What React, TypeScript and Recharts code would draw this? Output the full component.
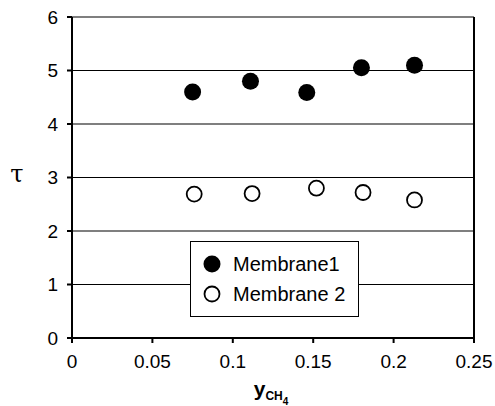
import React from 'react';
import {
  ScatterChart,
  Scatter,
  XAxis,
  YAxis,
  CartesianGrid,
  Legend,
  ReferenceLine
} from 'recharts';

// methane mole fraction vs tortuosity
const yCH4Membrane1 = [0.075, 0.111, 0.146, 0.18, 0.213];
const tauMembrane1 = [4.6, 4.8, 4.59, 5.05, 5.1];
const yCH4Membrane2 = [0.076, 0.112, 0.152, 0.181, 0.213];
const tauMembrane2 = [2.69, 2.7, 2.8, 2.72, 2.58];

const xTicks = [0, 0.05, 0.1, 0.15, 0.2, 0.25];
const yTicks = [0, 1, 2, 3, 4, 5, 6];
const seriesNames = ['Membrane1', 'Membrane 2'];

const membrane1 = yCH4Membrane1.map((x, i) => ({ x, y: tauMembrane1[i] }));
const membrane2 = yCH4Membrane2.map((x, i) => ({ x, y: tauMembrane2[i] }));

const FONT = '"Liberation Sans", Arial, sans-serif';

const FilledDot = (props: any) => (
  <circle cx={props.cx} cy={props.cy} r={8.5} fill="#000" />
);

const OpenDot = (props: any) => (
  <circle cx={props.cx} cy={props.cy} r={7.5} fill="#fff" stroke="#000" strokeWidth={1.8} />
);

const LegendBox = () => (
  <div
    style={{
      width: 169,
      height: 76,
      boxSizing: 'border-box',
      border: '1.5px solid #000',
      background: '#fff',
      fontFamily: FONT,
      fontSize: 20,
      color: '#000'
    }}
  >
    {seriesNames.map((name, i) => (
      <div
        key={name}
        style={{ display: 'flex', alignItems: 'center', height: 30, marginTop: i === 0 ? 7 : 0 }}
      >
        <svg width={42} height={30}>
          {i === 0 ? (
            <circle cx={21} cy={15} r={8.5} fill="#000" />
          ) : (
            <circle cx={21} cy={15} r={7.5} fill="#fff" stroke="#000" strokeWidth={1.8} />
          )}
        </svg>
        <span>{name}</span>
      </div>
    ))}
  </div>
);

const XLabel = ({ viewBox }: any) => {
  const cx = viewBox.x + viewBox.width / 2 - 2;
  return (
    <text x={cx} y={viewBox.y + 58} textAnchor="middle" fontFamily={FONT} fontWeight="bold" fill="#000">
      <tspan fontSize={21}>y</tspan>
      <tspan fontSize={12} dy={4}>CH</tspan>
      <tspan fontSize={10} dy={5}>4</tspan>
    </text>
  );
};

const YLabel = () => (
  <text x={17} y={182} textAnchor="middle" fontFamily='"DejaVu Serif", serif' fontSize={24} fill="#000">
    τ
  </text>
);

export default function App() {
  return (
    <div style={{ position: 'absolute', left: 0, top: 0, background: '#fff' }}>
      <ScatterChart
        width={495}
        height={406}
        margin={{ top: 17, right: 21, left: 0, bottom: 0 }}
      >
        <CartesianGrid horizontal vertical={false} stroke="#000" strokeWidth={1.2} />
        <XAxis
          type="number"
          dataKey="x"
          domain={[0, 0.25]}
          ticks={xTicks}
          height={68}
          tickSize={5}
          tickMargin={12}
          axisLine={{ stroke: '#000', strokeWidth: 2 }}
          tickLine={{ stroke: '#000', strokeWidth: 2 }}
          tick={{ fill: '#000', fontSize: 19, fontFamily: FONT }}
          label={<XLabel />}
        />
        <YAxis
          type="number"
          dataKey="y"
          domain={[0, 6]}
          ticks={yTicks}
          width={72}
          tickSize={5}
          tickMargin={9}
          axisLine={{ stroke: '#000', strokeWidth: 2 }}
          tickLine={{ stroke: '#000', strokeWidth: 2 }}
          tick={{ fill: '#000', fontSize: 19, fontFamily: FONT }}
          label={<YLabel />}
        />
        <ReferenceLine x={0.25} stroke="#000" strokeWidth={2} />
        <Legend
          layout="horizontal"
          verticalAlign="middle"
          content={<LegendBox />}
          wrapperStyle={{ position: 'absolute', left: 190, top: 241, width: 169, height: 76 }}
        />
        <Scatter
          name={seriesNames[0]}
          data={membrane1}
          shape={<FilledDot />}
          isAnimationActive={false}
        />
        <Scatter
          name={seriesNames[1]}
          data={membrane2}
          shape={<OpenDot />}
          isAnimationActive={false}
        />
      </ScatterChart>
    </div>
  );
}
